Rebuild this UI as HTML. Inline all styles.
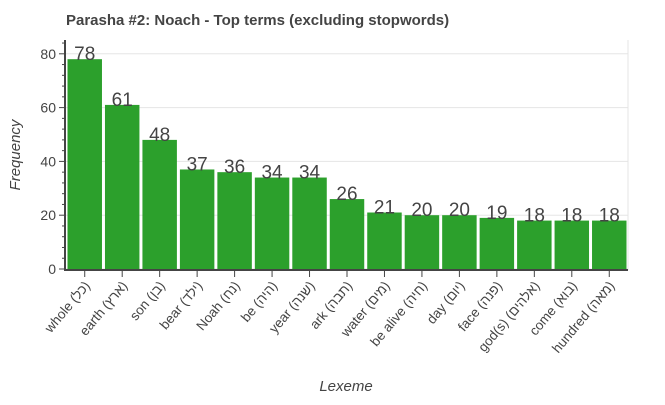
<!DOCTYPE html>
<html><head><meta charset="utf-8"><style>
body{margin:0;background:#fff;}
svg text{font-family:"Liberation Sans","DejaVu Sans",sans-serif;}
</style></head><body>
<svg id="c" width="665" height="400"></svg>
<script>
const categories=["whole (כל)","earth (ארץ)","son (בן)","bear (ילד)","Noah (נח)","be (היה)","year (שנה)","ark (תבה)","water (מים)","be alive (חיה)","day (יום)","face (פנה)","god(s) (אלהים)","come (בוא)","hundred (מאה)"];
const values=[78,61,48,37,36,34,34,26,21,20,20,19,18,18,18];
const yTicks=[0,20,40,60,80];
const NS="http://www.w3.org/2000/svg";
const svg=document.getElementById('c');
const L=66,R=628,T=40,B=270;
const y=v=>269-v*2.69;
const step=(R-L)/categories.length;
const xc=i=>L+step*(i+0.5);
function mk(t,a,p){const e=document.createElementNS(NS,t);for(const k in a)e.setAttribute(k,a[k]);(p||svg).appendChild(e);return e;}
const bg=mk('rect',{x:L,y:T,width:R-L,height:B-T,fill:'#fff'});


for(let v=0;v<=85;v+=20){const g=mk('line',{x1:L,x2:R,y1:y(v),y2:y(v),stroke:'#e5e5e5'});

}
mk('line',{x1:R,x2:R,y1:T,y2:B,stroke:'#e5e5e5'});
values.forEach((v,i)=>{
const w=step*0.92;
const r=mk('rect',{x:xc(i)-w/2,y:y(v),width:w,height:y(0)-y(v),fill:'#2ca02c'});


const t=mk('text',{x:xc(i),y:y(v)+1,'text-anchor':'middle','font-size':19,fill:'#444'});
t.textContent=v;


});
const ya=mk('line',{x1:L-1,x2:L-1,y1:T,y2:B+1,stroke:'#444','stroke-width':2});


const xa=mk('line',{x1:L-2,x2:R,y1:B,y2:B,stroke:'#444','stroke-width':2});


for(let v=0;v<=84;v+=4){const big=v%20===0;mk('line',{x1:L-(big?7:4),x2:L,y1:y(v),y2:y(v),stroke:'#444'});}
yTicks.forEach(v=>{const t=mk('text',{x:L-10,y:y(v)+5,'text-anchor':'end','font-size':14,fill:'#444'});t.textContent=v;

});
categories.forEach((c,i)=>{
mk('line',{x1:xc(i),x2:xc(i),y1:B,y2:B+7,stroke:'#444'});
const ax=xc(i)+6,ay=B+16;
const t=mk('text',{x:ax,y:ay,'text-anchor':'end','font-size':13.5,fill:'#444',transform:`rotate(-50 ${ax} ${ay})`});
t.textContent=c;


});
const ttl=mk('text',{x:66,y:25,'font-size':15,'font-weight':'bold',fill:'#444'});ttl.textContent="Parasha #2: Noach - Top terms (excluding stopwords)";


const xt=mk('text',{x:346,y:391,'text-anchor':'middle','font-size':15,'font-style':'italic',fill:'#444'});xt.textContent="Lexeme";


const yt=mk('text',{x:20,y:155,'text-anchor':'middle','font-size':15,'font-style':'italic',fill:'#444',transform:'rotate(-90 20 155)'});yt.textContent="Frequency";


</script>
</body></html>
